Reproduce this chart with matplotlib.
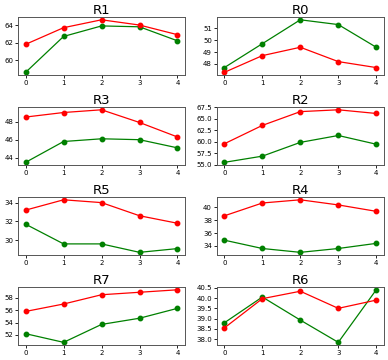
import numpy as np
import matplotlib
matplotlib.use('Agg')
import matplotlib.pyplot as plt
from matplotlib.ticker import MaxNLocator

x = [0, 1, 2, 3, 4]
titles = ['R1', 'R0', 'R3', 'R2', 'R5', 'R4', 'R7', 'R6']
red = [
    [61.8, 63.7, 64.6, 64.0, 62.9],
    [47.3, 48.7, 49.4, 48.2, 47.7],
    [48.5, 49.0, 49.3, 47.9, 46.3],
    [59.6, 63.6, 66.6, 67.0, 66.2],
    [33.2, 34.3, 34.0, 32.6, 31.8],
    [38.7, 40.7, 41.2, 40.4, 39.4],
    [55.8, 57.0, 58.5, 58.9, 59.3],
    [38.55, 39.97, 40.33, 39.5, 39.9],
]
green = [
    [58.6, 62.7, 63.9, 63.8, 62.2],
    [47.7, 49.7, 51.7, 51.3, 49.4],
    [43.5, 45.8, 46.1, 46.0, 45.1],
    [55.55, 56.9, 59.9, 61.4, 59.5],
    [31.7, 29.6, 29.6, 28.7, 29.1],
    [34.9, 33.6, 33.0, 33.6, 34.4],
    [52.2, 50.8, 53.7, 54.7, 56.3],
    [38.8, 40.05, 38.93, 37.85, 40.4],
]

fig, axes = plt.subplots(4, 2, figsize=(3.88, 3.6), dpi=100)
for ax, t, r, g in zip(axes.flat, titles, red, green):
    ax.plot(x, g, color='green', marker='o', markersize=3.2, linewidth=0.9)
    ax.plot(x, r, color='red', marker='o', markersize=3.2, linewidth=0.9)
    ax.set_title(t, fontsize=9.5, pad=2)
    ax.tick_params(labelsize=5, length=2, width=0.6, pad=1.5)
    ax.set_xticks(x)
    ax.yaxis.set_major_locator(MaxNLocator(nbins=6, steps=[1, 2, 2.5, 5, 10]))
    for s in ax.spines.values():
        s.set_linewidth(0.7)
        s.set_color('#555555')
fig.tight_layout(pad=0.3, h_pad=0.6, w_pad=0.8)
plt.savefig('out.png', dpi=100)
